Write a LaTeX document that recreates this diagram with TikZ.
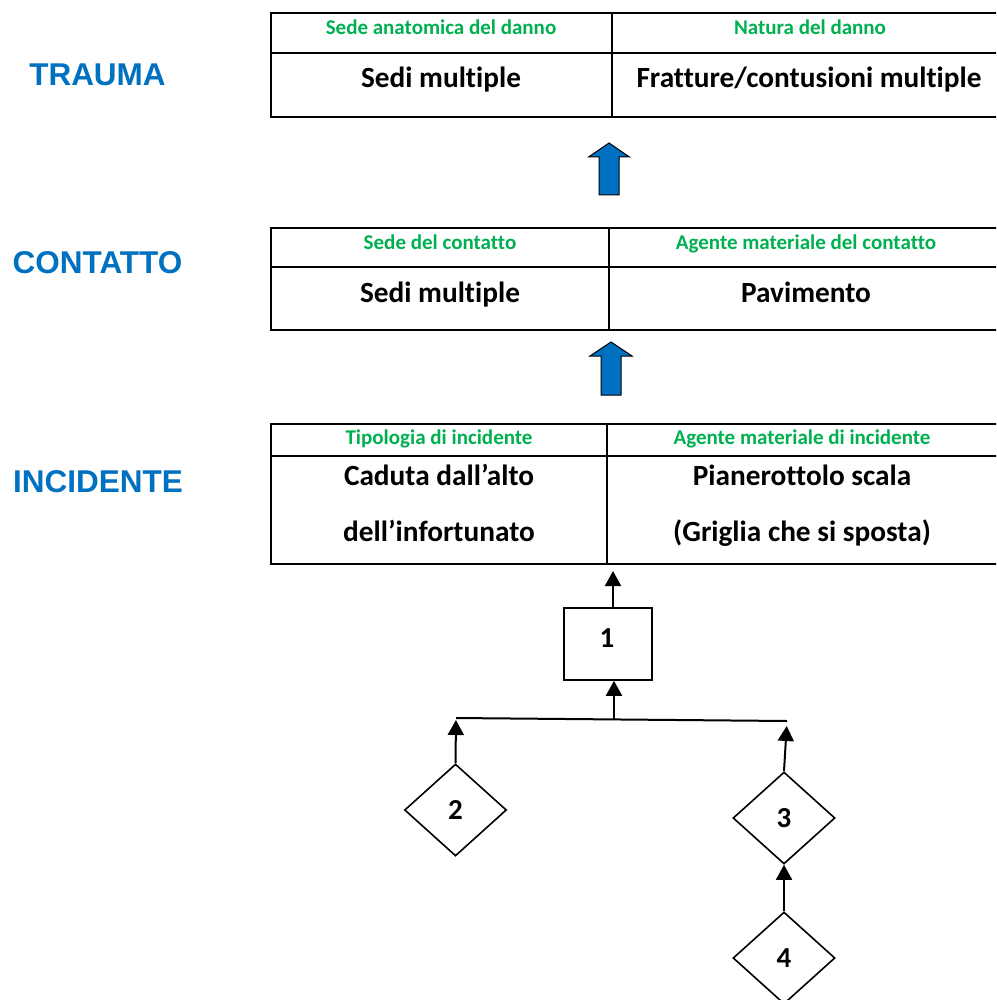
\documentclass[tikz,border=0pt]{standalone}
\usepackage{fontspec}
\setmainfont{Carlito}[RawFeature={-liga;-clig;-calt;-dlig}]
\newfontfamily\arialfont{Liberation Sans}
\usetikzlibrary{shapes.geometric,arrows.meta,calc}
\definecolor{tblue}{HTML}{0070C0}
\definecolor{tgreen}{HTML}{00B050}
\begin{document}
\begin{tikzpicture}[x=1pt,y=-1pt,
  title/.style={font=\arialfont\bfseries\fontsize{31.5}{36}\selectfont, text=tblue, inner sep=0},
  head/.style={font=\bfseries\fontsize{21}{24}\selectfont, text=tgreen, inner sep=0, text height=17pt, text depth=3pt},
  cell/.style={font=\bfseries\fontsize{29.3}{34}\selectfont, inner sep=0, text height=24pt, text depth=4pt},
  tableline/.style={line width=2.5pt},
  numtext/.style={font=\bfseries\fontsize{29}{34}\selectfont, inner sep=0},
  fbox/.style={draw, line width=1.6pt, minimum width=88pt, minimum height=72pt, inner sep=0},
  dbox/.style={draw, diamond, line width=1.6pt, minimum width=102pt, minimum height=92pt, inner sep=0, font=\bfseries\fontsize{29}{34}\selectfont},
  conn/.style={line width=2pt, -{Triangle[length=15pt,width=16pt]}},
  barrow/.style={fill=tblue, draw=black, line width=1pt, line join=miter}]
\useasboundingbox (0,0) rectangle (996,1000);
\begin{scope}
\clip (0,0) rectangle (996,1000);
% titles
\node[title] (ttrauma) at (97.5,75) {TRAUMA};
\node[title] (tcontatto) at (97.5,263) {CONTATTO};
\node[title] (tincidente) at (98,482) {INCIDENTE};
% table 1
\draw[tableline] (271,13) rectangle (1010,117);
\draw[tableline] (271,53) -- (1010,53);
\draw[tableline] (612,13) -- (612,117);
\node[head] (h11) at (441,28) {Sede anatomica del danno};
\node[head] (h12) at (810,28) {Natura del danno};
\node[cell] (c11) at (441,78) {Sedi multiple};
\node[cell] (c12) at (809,78) {Fratture/contusioni multiple};
% arrow 1
\draw[barrow] (609,143) -- (629.5,157) -- (619,157) -- (619,195) -- (599,195) -- (599,157) -- (588.5,157) -- cycle;
% table 2
\draw[tableline] (271,228) rectangle (1010,330);
\draw[tableline] (271,267) -- (1010,267);
\draw[tableline] (609,228) -- (609,330);
\node[head] (h21) at (440,242) {Sede del contatto};
\node[head] (h22) at (806,242) {Agente materiale del contatto};
\node[cell] (c21) at (440,292) {Sedi multiple};
\node[cell] (c22) at (806,292) {Pavimento};
% arrow 2
\draw[barrow] (611,342) -- (632,356) -- (621,356) -- (621,395) -- (601,395) -- (601,356) -- (590,356) -- cycle;
% table 3
\draw[tableline] (271,424) rectangle (1010,564);
\draw[tableline] (271,456) -- (1010,456);
\draw[tableline] (607,424) -- (607,564);
\node[head] (h31) at (439,437) {Tipologia di incidente};
\node[head] (h32) at (802,437) {Agente materiale di incidente};
\node[cell] (c31) at (439,475) {Caduta dall’alto};
\node[cell] (c32) at (439,531) {dell’infortunato};
\node[cell] (c33) at (802,475) {Pianerottolo scala};
\node[cell] (c34) at (802,531) {(Griglia che si sposta)};
\coordinate (t3b) at (613,564);
% flow
\node[fbox] (n1) at (608,644) {};
\node[numtext] (n1t) at (607,638) {1};
\node[dbox] (d2) at (455.5,810) {2};
\node[dbox] (d3) at (784,818) {3};
\node[dbox] (d4) at (784,958) {4};
\coordinate (jl) at (456,718);
\coordinate (jr) at (787,721);
\coordinate (jm) at (614,719.5);
\draw[line width=2pt] (jl) -- (jr);
\draw[conn, shorten >=7pt] (n1.north -| t3b) -- (t3b);
\draw[conn] (jm) -- (jm |- n1.south);
\draw[conn, shorten >=2pt] (d2.north) -- (jl);
\draw[conn, shorten >=5pt] (d3.north) -- (jr);
\draw[conn] (d4.north) -- (d3.south);
\end{scope}
\end{tikzpicture}
\end{document}
